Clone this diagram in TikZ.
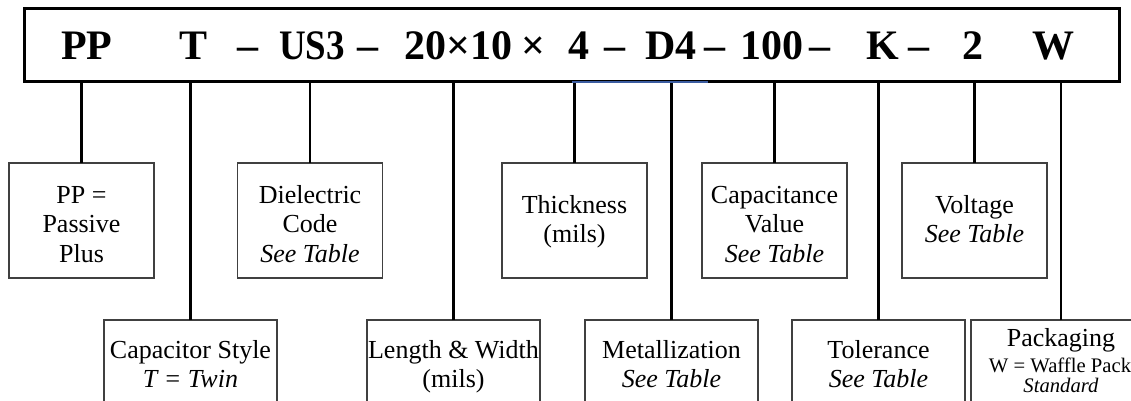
\documentclass[tikz,border=0pt]{standalone}
\usepackage{graphicx}
\usepackage{fontspec}
\setmainfont{Liberation Serif}
\definecolor{boxgray}{RGB}{64,64,64}
\definecolor{lineblue}{RGB}{59,92,160}
\newcommand\stk[1]{\begin{tabular}[t]{@{}c@{}}#1\end{tabular}}
\begin{document}
\begin{tikzpicture}[x=0.75pt,y=-0.75pt,
  codebox/.style={draw=black, line width=2.25pt, inner sep=0pt, outer sep=0pt,
    minimum width=1095*0.75pt, minimum height=73*0.75pt},
  hdr/.style={font=\fontsize{31.5}{36}\selectfont\bfseries, inner sep=0pt, anchor=base west},
  ubox/.style={draw=boxgray, line width=0.9pt, fill=white, inner sep=0pt, outer sep=0pt,
    minimum width=145*0.75pt, minimum height=115*0.75pt},
  lbox/.style={draw=boxgray, line width=0.9pt, fill=white, inner sep=0pt, outer sep=0pt,
    minimum width=173*0.75pt, minimum height=100*0.75pt},
  lbl/.style={font=\fontsize{19.5}{22.3}\selectfont, inner sep=0pt, anchor=base},
  sml/.style={font=\fontsize{15.5}{18}\selectfont, inner sep=0pt, anchor=base},
  link/.style={line width=1.75pt}
]
\useasboundingbox (0,0) rectangle (1131,400);
\clip (0,0) rectangle (1131,400);

% code box
\node[codebox] (code) at (571.5,44.5) {};
\node[hdr] (h1) at (61,59) {PP};
\node[hdr] (h2) at (179,59) {T};
\node[hdr] (h3) at (237,59) {–};
\node[hdr] (h4) at (279,59) {\scalebox{0.88}[1]{US3}};
\node[hdr] (h5) at (357,59) {–};
\node[hdr] (h6) at (404,59) {20×10};
\node[hdr] (h7) at (521,59) {×};
\node[hdr] (h8) at (568,59) {4};
\node[hdr] (h9) at (604,59) {–};
\node[hdr] (h10) at (645,59) {D4};
\node[hdr] (h11) at (704,59) {–};
\node[hdr] (h12) at (740,59) {100};
\node[hdr] (h13) at (809,59) {–};
\node[hdr] (h14) at (866,59) {K};
\node[hdr] (h15) at (908,59) {–};
\node[hdr] (h16) at (962,59) {2};
\node[hdr] (h17) at (1032,59) {W};

% upper boxes
\node[ubox] (uPP) at (81.5,220.5) {};
\node[ubox] (uDi) at (310,220.5) {};
\node[ubox] (uTh) at (574.5,220.5) {};
\node[ubox] (uCa) at (774.5,220.5) {};
\node[ubox] (uVo) at (974.5,220.5) {};

% lower boxes
\node[lbox] (lCs) at (190.5,370) {};
\node[lbox] (lLw) at (453.5,370) {};
\node[lbox] (lMe) at (671.5,370) {};
\node[lbox] (lTo) at (878.5,370) {};
\node[lbox, minimum width=180*0.75pt] (lPk) at (1061,370) {};

% connectors
\foreach \b in {uPP,uDi,uTh,uCa,uVo,lCs,lLw,lMe,lTo,lPk}
  \draw[link] (\b.north) -- (\b.north |- code.south);

% blue mark
\coordinate (bA) at (572,82);
\coordinate (bB) at (708,82);
\draw[lineblue, line width=1.1pt] (bA) -- (bB);

% texts upper
\node[lbl] (tPP) at (81.5,203) {\stk{PP =\\Passive\\Plus}};
\node[lbl] (tDi) at (310,203) {\stk{Dielectric\\Code\\\textit{See Table}}};
\node[lbl] (tTh) at (574.5,213) {\stk{Thickness\\(mils)}};
\node[lbl] (tCa) at (774.5,203) {\stk{Capacitance\\Value\\\textit{See Table}}};
\node[lbl] (tVo) at (974.5,213) {\stk{Voltage\\\textit{See Table}}};

% texts lower
\node[lbl] (tCs) at (190.5,358) {\stk{Capacitor Style\\\textit{T = Twin}}};
\node[lbl] (tLw) at (453.5,358) {\stk{Length \& Width\\(mils)}};
\node[lbl] (tMe) at (671.5,358) {\stk{Metallization\\\textit{See Table}}};
\node[lbl] (tTo) at (878.5,358) {\stk{Tolerance\\\textit{See Table}}};
\node[lbl] (pk1) at (1061,346) {Packaging};
\node[sml] (pk2) at (1060,372) {W = Waffle Pack};
\node[sml] (pk3) at (1061,392) {\textit{Standard}};
\end{tikzpicture}
\end{document}
